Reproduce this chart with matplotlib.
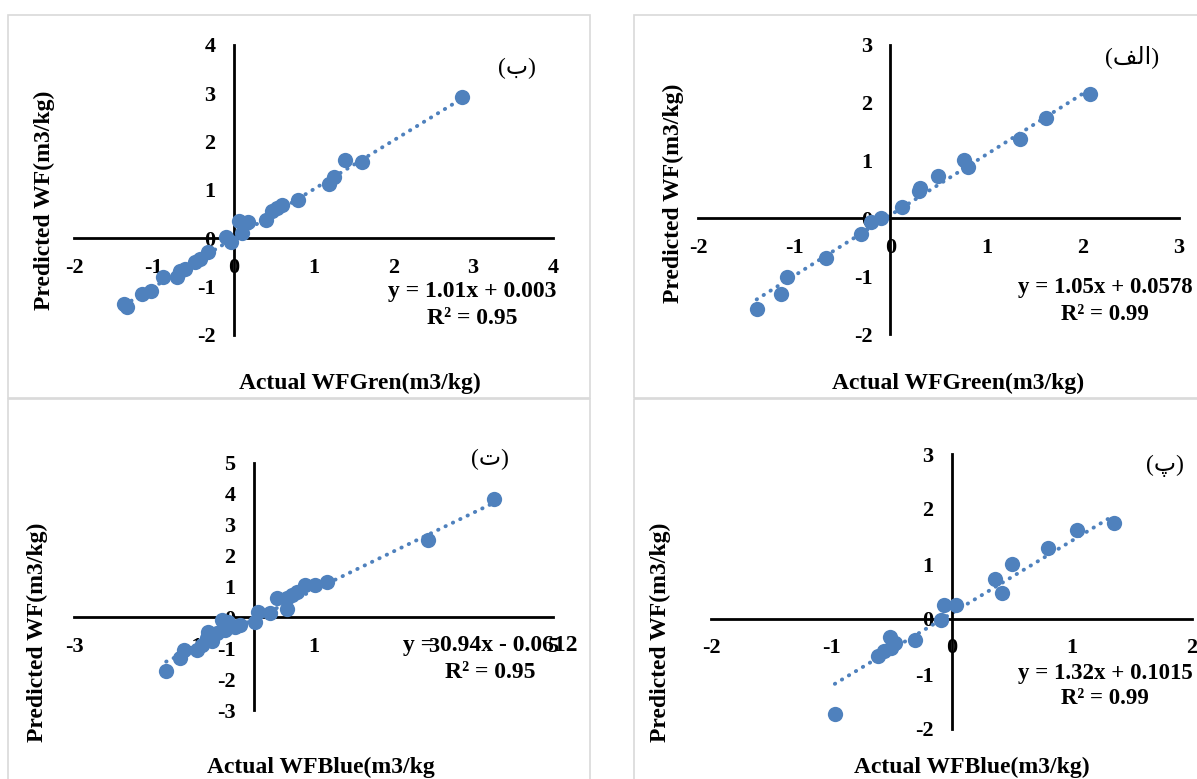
import matplotlib
matplotlib.use("Agg")
import matplotlib.pyplot as plt
from matplotlib.patches import Rectangle
import numpy as np

W, H = 1197, 779
BLUE = "#4f81bd"

plt.rcParams['font.family'] = ['Liberation Serif', 'DejaVu Sans']
plt.rcParams['font.weight'] = 'bold'
plt.rcParams['axes.unicode_minus'] = False

# panel (ب) - green water footprint, top left
b_actual = [2.86, 1.39, 1.61, 1.26, 1.20, 0.80, 0.60, 0.54, 0.48, 0.41, 0.07, 0.18, 0.10,
            -0.09, -0.03, -0.32, -0.42, -0.48, -0.61, -0.67, -0.71, -0.88, -1.03, -1.15,
            -1.37, -1.34]
b_pred = [2.93, 1.63, 1.57, 1.26, 1.13, 0.79, 0.68, 0.63, 0.56, 0.37, 0.35, 0.34, 0.10,
          0.03, -0.08, -0.28, -0.42, -0.49, -0.63, -0.68, -0.80, -0.79, -1.08, -1.15,
          -1.35, -1.43]

# panel (الف) - green water footprint, top right
alef_actual = [2.07, 1.62, 1.35, 0.76, 0.81, 0.49, 0.30, 0.31, 0.12, -0.10, -0.20, -0.31,
               -0.67, -1.07, -1.14, -1.39]
alef_pred = [2.15, 1.73, 1.37, 1.01, 0.89, 0.73, 0.48, 0.52, 0.20, 0.00, -0.06, -0.27,
             -0.68, -1.02, -1.31, -1.57]

# panel (ت) - blue water footprint, bottom left
te_actual = [4.01, 2.91, 1.23, 1.03, 0.86, 0.72, 0.64, 0.55, 0.39, 0.55, 0.27, 0.08, 0.02,
             -0.23, -0.31, -0.42, -0.53, -0.48, -0.62, -0.76, -0.78, -0.70, -0.87, -0.95,
             -1.17, -1.23, -1.46]
te_pred = [3.83, 2.49, 1.16, 1.05, 1.05, 0.83, 0.73, 0.62, 0.62, 0.27, 0.14, 0.19, -0.14,
           -0.24, -0.30, -0.14, -0.08, -0.40, -0.51, -0.46, -0.67, -0.78, -0.89, -1.05,
           -1.05, -1.32, -1.75]

# panel (پ) - blue water footprint, bottom right
pe_actual = [1.35, 1.04, 0.80, 0.50, 0.36, 0.42, 0.04, -0.06, -0.09, -0.30, -0.51, -0.47,
             -0.50, -0.56, -0.61, -0.97]
pe_pred = [1.75, 1.62, 1.30, 1.00, 0.72, 0.47, 0.25, 0.25, -0.01, -0.38, -0.33, -0.44,
           -0.53, -0.59, -0.67, -1.73]

# trend line coefficients as printed on the chart
slopes = [1.01, 1.05, 0.94, 1.32]
intercepts = [0.003, 0.0578, -0.0612, 0.1015]
eq_texts = ["y = 1.01x + 0.003", "y = 1.05x + 0.0578", "y = 0.94x - 0.0612", "y = 1.32x + 0.1015"]
r2_texts = ["R² = 0.95", "R² = 0.99", "R² = 0.95", "R² = 0.99"]

x_titles = ["Actual WFGren(m3/kg)", "Actual WFGreen(m3/kg)", "Actual WFBlue(m3/kg", "Actual WFBlue(m3/kg)"]
y_title = "Predicted WF(m3/kg)"
# Arabic panel tags, written in visual order (matplotlib does no RTL shaping)
tags = ["(\u0628)", "(\ufed2\ufedf\ufe8d)", "(\u062a)", "(\u067e)"]

x_ticks = [list(range(-2, 5)), list(range(-2, 4)), [-3, -1, 1, 3, 5], list(range(-2, 3))]
y_ticks = [list(range(-2, 5)), list(range(-2, 4)), list(range(-3, 6)), list(range(-2, 4))]

actuals = [b_actual, alef_actual, te_actual, pe_actual]
preds = [b_pred, alef_pred, te_pred, pe_pred]

# layout in pixels: axes box (left, right, top, bottom), frame box, text anchors
axes_px = [(74, 553, 45, 335), (698, 1179, 45, 334), (74, 553, 463, 710), (711, 1192, 454, 729)]
frames_px = [(8, 15, 590, 398), (634, 15, 1205, 398), (8, 399, 590, 790), (634, 399, 1205, 790)]
xlabel_px = [(360, 383), (958, 383), (321, 767), (972, 767)]
ylabel_px = [(44, 200), (673, 193), (37, 632), (660, 632)]
eq_px = [(472, 291, 318), (1105, 288, 315), (490, 646, 673), (1105, 673, 699)]
eq_size = [17, 16.5, 17, 16.5]
tag_px = [(517, 68), (1132, 57), (490, 459), (1165, 466)]

fig = plt.figure(figsize=(W / 100, H / 100), dpi=100)

for i in range(4):
    fx0, fy0, fx1, fy1 = frames_px[i]
    fig.patches.append(Rectangle((fx0 / W, 1 - fy1 / H), (fx1 - fx0) / W, (fy1 - fy0) / H,
                                 transform=fig.transFigure, fill=False,
                                 edgecolor="#d9d9d9", linewidth=1.2))

    l, r, t, b = axes_px[i]
    ax = fig.add_axes([l / W, 1 - b / H, (r - l) / W, (b - t) / H])
    ax.set_facecolor("none")

    xt, yt = x_ticks[i], y_ticks[i]
    ax.set_xlim(xt[0], xt[-1])
    ax.set_ylim(yt[0], yt[-1])

    x = np.array(actuals[i])
    y = np.array(preds[i])
    ax.plot(x, y, 'o', color=BLUE, ms=11, mec='none', zorder=3, clip_on=False)

    # linear trend line over the data range
    xs = np.array([x.min(), x.max()])
    ax.plot(xs, slopes[i] * xs + intercepts[i], color=BLUE, lw=2.8,
            linestyle=(0, (0.1, 2.0)), dash_capstyle='round', zorder=2)

    for side in ['top', 'right']:
        ax.spines[side].set_visible(False)
    for side in ['left', 'bottom']:
        ax.spines[side].set_position(('data', 0))
        ax.spines[side].set_linewidth(2.0)
        ax.spines[side].set_color("black")

    ax.set_xticks(xt)
    ax.set_yticks(yt)
    ax.set_xticklabels([str(v) for v in xt])
    ax.set_yticklabels([str(v) for v in yt])
    ax.tick_params(length=0, labelsize=16)
    ax.tick_params(axis='x', pad=14)
    ax.tick_params(axis='y', pad=13)

    xl = xlabel_px[i]
    fig.text(xl[0] / W, 1 - xl[1] / H, x_titles[i], ha='center', va='center',
             fontsize=17, fontweight='bold')
    yl = ylabel_px[i]
    fig.text(yl[0] / W, 1 - yl[1] / H, y_title, ha='center', va='center',
             rotation=90, fontsize=17, fontweight='bold')

    ex, ey1, ey2 = eq_px[i]
    fig.text(ex / W, 1 - ey1 / H, eq_texts[i], ha='center', va='center',
             fontsize=eq_size[i], fontweight='bold')
    fig.text(ex / W, 1 - ey2 / H, r2_texts[i], ha='center', va='center',
             fontsize=eq_size[i], fontweight='bold')

    tx, ty = tag_px[i]
    fig.text(tx / W, 1 - ty / H, tags[i], ha='center', va='center',
             fontsize=17, fontweight='normal')

plt.savefig("out.png", dpi=100)
plt.close()
